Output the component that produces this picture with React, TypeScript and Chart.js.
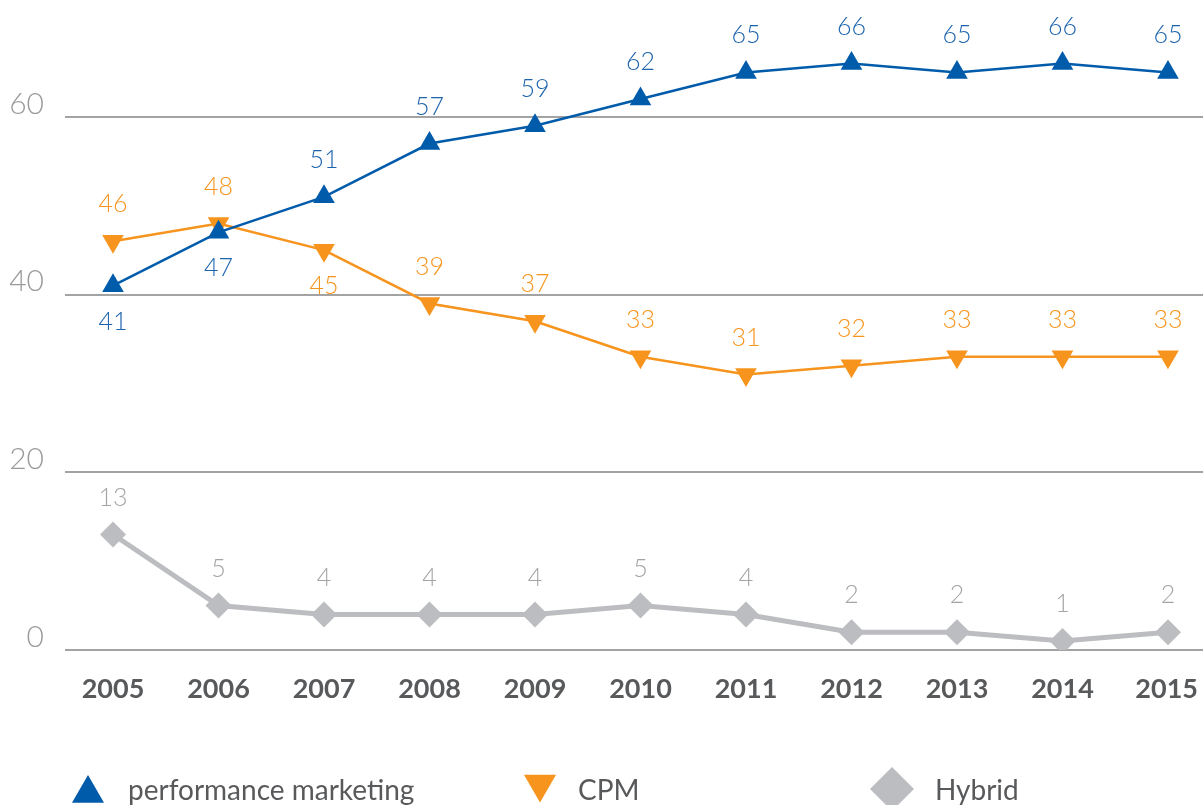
import React, { useEffect, useRef } from 'react';
import { Chart, registerables } from 'chart.js';

Chart.register(...registerables);

const years = [2005, 2006, 2007, 2008, 2009, 2010, 2011, 2012, 2013, 2014, 2015];
const performance = [41, 47, 51, 57, 59, 62, 65, 66, 65, 66, 65];
const cpm = [46, 48, 45, 39, 37, 33, 31, 32, 33, 33, 33];
const hybrid = [13, 5, 4, 4, 4, 5, 4, 2, 2, 1, 2];
const yTickValues = [0, 20, 40, 60];
const seriesNames = ['performance marketing', 'CPM', 'Hybrid'];
// indices whose value label sits below the marker
const perfBelow = [0, 1];
const cpmBelow = [2];
const hybridBelow: number[] = [];

const BLUE = '#005baa';
const ORANGE = '#f7941d';
const GRAY = '#bcbdc0';
const FONT = "Lato, 'Open Sans', sans-serif";

const valueLabels = {
  id: 'valueLabels',
  afterDatasetsDraw(chart: any) {
    const ctx = chart.ctx;
    ctx.save();
    ctx.font = `300 25px ${FONT}`;
    ctx.textAlign = 'center';
    ctx.textBaseline = 'middle';
    chart.data.datasets.forEach((ds: any, di: number) => {
      const meta = chart.getDatasetMeta(di);
      ctx.fillStyle = ds.labelColor;
      meta.data.forEach((pt: any, i: number) => {
        const below = ds.below.includes(i);
        const v = ds.data[i].y;
        ctx.fillText(String(v), pt.x, pt.y + (below ? 36 : -37));
      });
    });
    ctx.restore();
  },
};

const axisLabels = {
  id: 'axisLabels',
  afterDraw(chart: any) {
    const ctx = chart.ctx;
    const y = chart.scales.y;
    const x = chart.scales.x;
    ctx.save();
    ctx.font = `300 30px ${FONT}`;
    ctx.fillStyle = '#9a9a9a';
    ctx.textAlign = 'right';
    ctx.textBaseline = 'middle';
    yTickValues.forEach((v) => {
      ctx.fillText(String(v), 44, y.getPixelForValue(v) - 13);
    });
    ctx.font = `bold 27px ${FONT}`;
    ctx.fillStyle = '#58595b';
    ctx.textAlign = 'center';
    years.forEach((v) => {
      const px = x.getPixelForValue(v);
      const w = ctx.measureText(String(v)).width;
      const cx = Math.min(px, chart.width - 5 - w / 2);
      ctx.fillText(String(v), cx, 689);
    });
    ctx.restore();
  },
};

const legendPlugin = {
  id: 'customLegend',
  afterDraw(chart: any) {
    const ctx = chart.ctx;
    ctx.save();
    const tri = (x: number, y: number, r: number, down: boolean, color: string) => {
      const s = down ? -1 : 1;
      ctx.beginPath();
      ctx.moveTo(x, y - s * r);
      ctx.lineTo(x + Math.sin((2 * Math.PI) / 3) * r, y + (s * r) / 2);
      ctx.lineTo(x - Math.sin((2 * Math.PI) / 3) * r, y + (s * r) / 2);
      ctx.closePath();
      ctx.fillStyle = color;
      ctx.fill();
    };
    tri(88, 793.5, 18.5, false, BLUE);
    tri(540, 784, 18.5, true, ORANGE);
    ctx.beginPath();
    ctx.moveTo(892, 767);
    ctx.lineTo(914, 789);
    ctx.lineTo(892, 811);
    ctx.lineTo(870, 789);
    ctx.closePath();
    ctx.fillStyle = GRAY;
    ctx.fill();
    ctx.font = `400 28px ${FONT}`;
    ctx.fillStyle = '#58595b';
    ctx.textAlign = 'left';
    ctx.textBaseline = 'alphabetic';
    ctx.fillText(seriesNames[0], 128, 800);
    ctx.fillText(seriesNames[1], 578, 800);
    ctx.fillText(seriesNames[2], 935, 800);
    ctx.restore();
  },
};

export default function App() {
  const ref = useRef<HTMLCanvasElement>(null);
  useEffect(() => {
    document.body.style.margin = '0';
    const toXY = (arr: number[]) => arr.map((v, i) => ({ x: years[i], y: v }));
    const chart = new Chart(ref.current as HTMLCanvasElement, {
      type: 'line',
      data: {
        datasets: [
          {
            label: seriesNames[0],
            data: toXY(performance),
            borderColor: BLUE,
            backgroundColor: BLUE,
            borderWidth: 2.5,
            pointStyle: 'triangle',
            pointRadius: 12.5,
            pointBorderWidth: 0,
            labelColor: '#1c63ad',
            below: perfBelow,
          } as any,
          {
            label: seriesNames[1],
            data: toXY(cpm),
            borderColor: ORANGE,
            backgroundColor: ORANGE,
            borderWidth: 2.5,
            pointStyle: 'triangle',
            pointRotation: 180,
            pointRadius: 12.5,
            pointBorderWidth: 0,
            labelColor: ORANGE,
            below: cpmBelow,
          } as any,
          {
            label: seriesNames[2],
            data: toXY(hybrid),
            borderColor: GRAY,
            backgroundColor: GRAY,
            borderWidth: 5,
            pointStyle: 'rectRot',
            pointRadius: 13,
            pointBorderWidth: 0,
            labelColor: '#a3a4a6',
            below: hybridBelow,
          } as any,
        ],
      },
      options: {
        animation: false,
        responsive: false,
        maintainAspectRatio: false,
        layout: { autoPadding: false, padding: { top: 28, left: 0, right: 0, bottom: 0 } },
        plugins: { legend: { display: false }, tooltip: { enabled: false } },
        scales: {
          x: {
            type: 'linear',
            min: 2004.545,
            max: 2015.332,
            grid: { display: false, drawTicks: false },
            border: { display: false },
            afterBuildTicks: (s: any) => {
              s.ticks = years.map((v) => ({ value: v }));
            },
            afterFit: (s: any) => {
              s.height = 155;
            },
            ticks: { display: false },
          },
          y: {
            min: 0,
            max: 70,
            afterBuildTicks: (s: any) => {
              s.ticks = yTickValues.map((v) => ({ value: v }));
            },
            afterFit: (s: any) => {
              s.width = 65;
            },
            grid: { color: '#a3a3a3', lineWidth: 2, drawTicks: false },
            border: { display: false },
            ticks: { display: false },
          },
        },
      } as any,
      plugins: [valueLabels, axisLabels, legendPlugin],
    });
    return () => chart.destroy();
  }, []);
  return (
    <div style={{ width: 1203, height: 805 }}>
      <canvas ref={ref} width={1203} height={805} style={{ display: 'block' }} />
    </div>
  );
}
